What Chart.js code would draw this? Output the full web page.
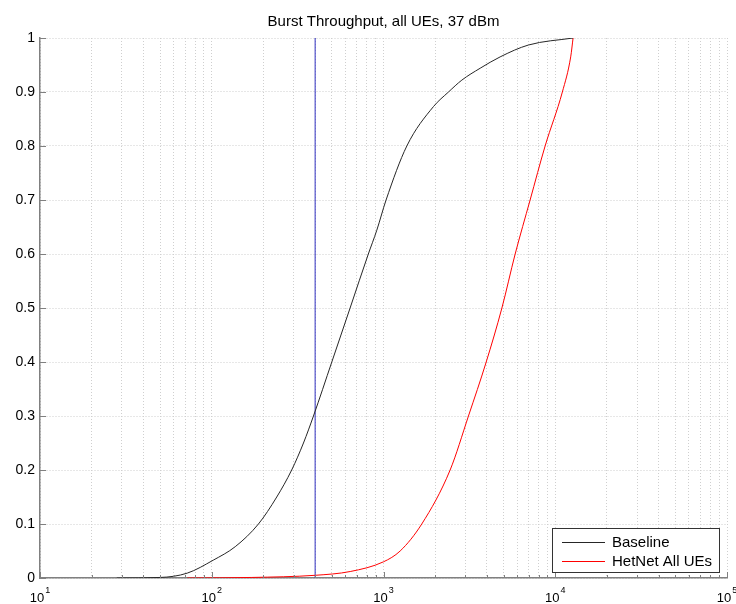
<!DOCTYPE html>
<html>
<head>
<meta charset="utf-8">
<title>Burst Throughput</title>
<script src="https://cdn.jsdelivr.net/npm/chart.js@4.4.0/dist/chart.umd.min.js"></script>
<style>
  html, body { margin: 0; padding: 0; background: #fff; }
  #wrap { width: 736px; height: 604px; }
</style>
</head>
<body>
<div id="wrap"><canvas id="cdfChart" width="736" height="604"></canvas></div>
<script>
// Burst throughput CDF, all UEs, 37 dBm
// =====================================================

const chartTitle = 'Burst Throughput, all UEs, 37 dBm';

// Baseline CDF (throughput on log axis, cumulative fraction)
const baselineRate = [28, 50, 72, 102, 137, 187, 239, 292, 342, 391, 500, 639, 816, 914, 1035, 1367, 1954, 2390, 2858, 3654, 4775, 6980, 12700];
const baselineCdf  = [0, 0.001, 0.009, 0.033, 0.058, 0.1, 0.15, 0.2, 0.25, 0.3, 0.4, 0.5, 0.6, 0.644, 0.7, 0.8, 0.873, 0.9, 0.922, 0.944, 0.965, 0.987, 1.0];

// HetNet all UEs CDF
const hetnetRate = [72, 170, 400, 640, 1000, 1250, 1670, 2443, 3124, 3963, 4891, 5843, 7140, 8730, 11000, 12300, 12700];
const hetnetCdf  = [0, 0.001, 0.005, 0.012, 0.03, 0.05, 0.1, 0.2, 0.3, 0.4, 0.5, 0.6, 0.7, 0.8, 0.9, 0.965, 1.0];

// Reference marker
const markerRate = [400, 400];
const markerCdf  = [0, 1];

// Axis ticks
const xMajorTicks = [10, 100, 1000, 10000, 100000];
const xExponents  = ['1', '2', '3', '4', '5'];
const xMinorSteps = [2, 3, 4, 5, 6, 7, 8, 9];

const FONT = "'Liberation Sans', Arial, Helvetica, sans-serif";
const AXIS_GREY = '#808080';

function toPoints(xs, ys) {
  return xs.map((x, i) => ({ x: x, y: ys[i] }));
}

// every decade plus its 2..9 multiples
const xTickValues = [];
xMajorTicks.forEach((m, i) => {
  xTickValues.push(m);
  if (i < xMajorTicks.length - 1) {
    xMinorSteps.forEach(s => xTickValues.push(m * s));
  }
});

// Title, inward ticks, superscript labels and boxed legend
const matlabDecor = {
  id: 'matlabDecor',
  afterDraw(chart) {
    const { ctx, chartArea: area, scales: { x, y } } = chart;
    ctx.save();

    // tick marks pointing into the plot
    ctx.strokeStyle = AXIS_GREY;
    ctx.lineWidth = 1;
    ctx.beginPath();
    xTickValues.forEach(v => {
      const px = Math.round(x.getPixelForValue(v)) + 0.5;
      const len = xMajorTicks.includes(v) ? 6 : 3;
      ctx.moveTo(px, area.bottom);
      ctx.lineTo(px, area.bottom - len);
    });
    y.ticks.forEach(t => {
      const py = Math.round(y.getPixelForValue(t.value)) + 0.5;
      ctx.moveTo(area.left, py);
      ctx.lineTo(area.left + 6, py);
    });
    ctx.stroke();

    // x labels as 10^n
    ctx.fillStyle = '#000';
    ctx.textBaseline = 'alphabetic';
    ctx.textAlign = 'left';
    xMajorTicks.forEach((v, i) => {
      const px = x.getPixelForValue(v);
      ctx.font = '13px ' + FONT;
      const wBase = ctx.measureText('10').width;
      ctx.font = '9px ' + FONT;
      const wExp = ctx.measureText(xExponents[i]).width;
      const start = px - (wBase + wExp + 1) / 2;
      ctx.font = '13px ' + FONT;
      ctx.fillText('10', start, 602);
      ctx.font = '9px ' + FONT;
      ctx.fillText(xExponents[i], start + wBase + 1, 593);
    });

    // title
    ctx.font = '15px ' + FONT;
    ctx.textAlign = 'center';
    ctx.textBaseline = 'middle';
    ctx.fillText(chartTitle, (area.left + area.right) / 2, 22);

    // legend box in the lower right corner
    const items = chart.data.datasets.filter(d => d.inLegend);
    const boxX = 552.5, boxY = 528.5, boxW = 167, boxH = 44;
    ctx.fillStyle = '#fff';
    ctx.fillRect(boxX, boxY, boxW, boxH);
    ctx.strokeStyle = '#333';
    ctx.lineWidth = 1;
    ctx.strokeRect(boxX, boxY, boxW, boxH);
    ctx.font = '15px ' + FONT;
    ctx.textAlign = 'left';
    items.forEach((d, i) => {
      const rowY = 542 + i * 19;
      ctx.strokeStyle = d.borderColor;
      ctx.lineWidth = d.borderWidth;
      ctx.beginPath();
      ctx.moveTo(562, rowY + 0.5);
      ctx.lineTo(605, rowY + 0.5);
      ctx.stroke();
      ctx.fillStyle = '#000';
      ctx.fillText(d.label, 612, rowY + 1);
    });

    ctx.restore();
  }
};

const lineStyle = {
  pointRadius: 0,
  pointHoverRadius: 0,
  borderWidth: 1,
  fill: false,
  cubicInterpolationMode: 'monotone'
};

new Chart(document.getElementById('cdfChart'), {
  type: 'line',
  data: {
    datasets: [
      Object.assign({
        label: 'Baseline',
        data: toPoints(baselineRate, baselineCdf),
        borderColor: '#262626',
        inLegend: true
      }, lineStyle),
      Object.assign({
        label: 'HetNet All UEs',
        data: toPoints(hetnetRate, hetnetCdf),
        borderColor: '#ff0000',
        inLegend: true
      }, lineStyle),
      Object.assign({
        label: 'marker',
        data: toPoints(markerRate, markerCdf),
        borderColor: '#3030c0',
        inLegend: false
      }, lineStyle, { cubicInterpolationMode: 'default', tension: 0 })
    ]
  },
  options: {
    responsive: false,
    animation: false,
    layout: { padding: { top: 38, right: 9, bottom: 0, left: 0 } },
    plugins: {
      legend: { display: false },
      title: { display: false },
      tooltip: { enabled: false }
    },
    scales: {
      x: {
        type: 'logarithmic',
        min: 10,
        max: 100000,
        afterBuildTicks: scale => {
          scale.ticks = xTickValues.map(v => ({ value: v }));
        },
        afterFit: scale => { scale.height = 26; },
        ticks: { display: false },
        grid: { color: '#cfcfcf', lineWidth: 1, drawTicks: false },
        border: { display: true, color: AXIS_GREY, width: 1.5, dash: [1, 2] }
      },
      y: {
        type: 'linear',
        min: 0,
        max: 1,
        afterFit: scale => { scale.width = 40; },
        ticks: {
          stepSize: 0.1,
          padding: 5,
          color: '#000',
          font: { family: FONT, size: 14 },
          callback: v => String(Math.round(v * 10) / 10)
        },
        grid: { color: '#cfcfcf', lineWidth: 1, drawTicks: false },
        border: { display: true, color: AXIS_GREY, width: 1.5, dash: [1, 2] }
      }
    }
  },
  plugins: [matlabDecor]
});
</script>
</body>
</html>
